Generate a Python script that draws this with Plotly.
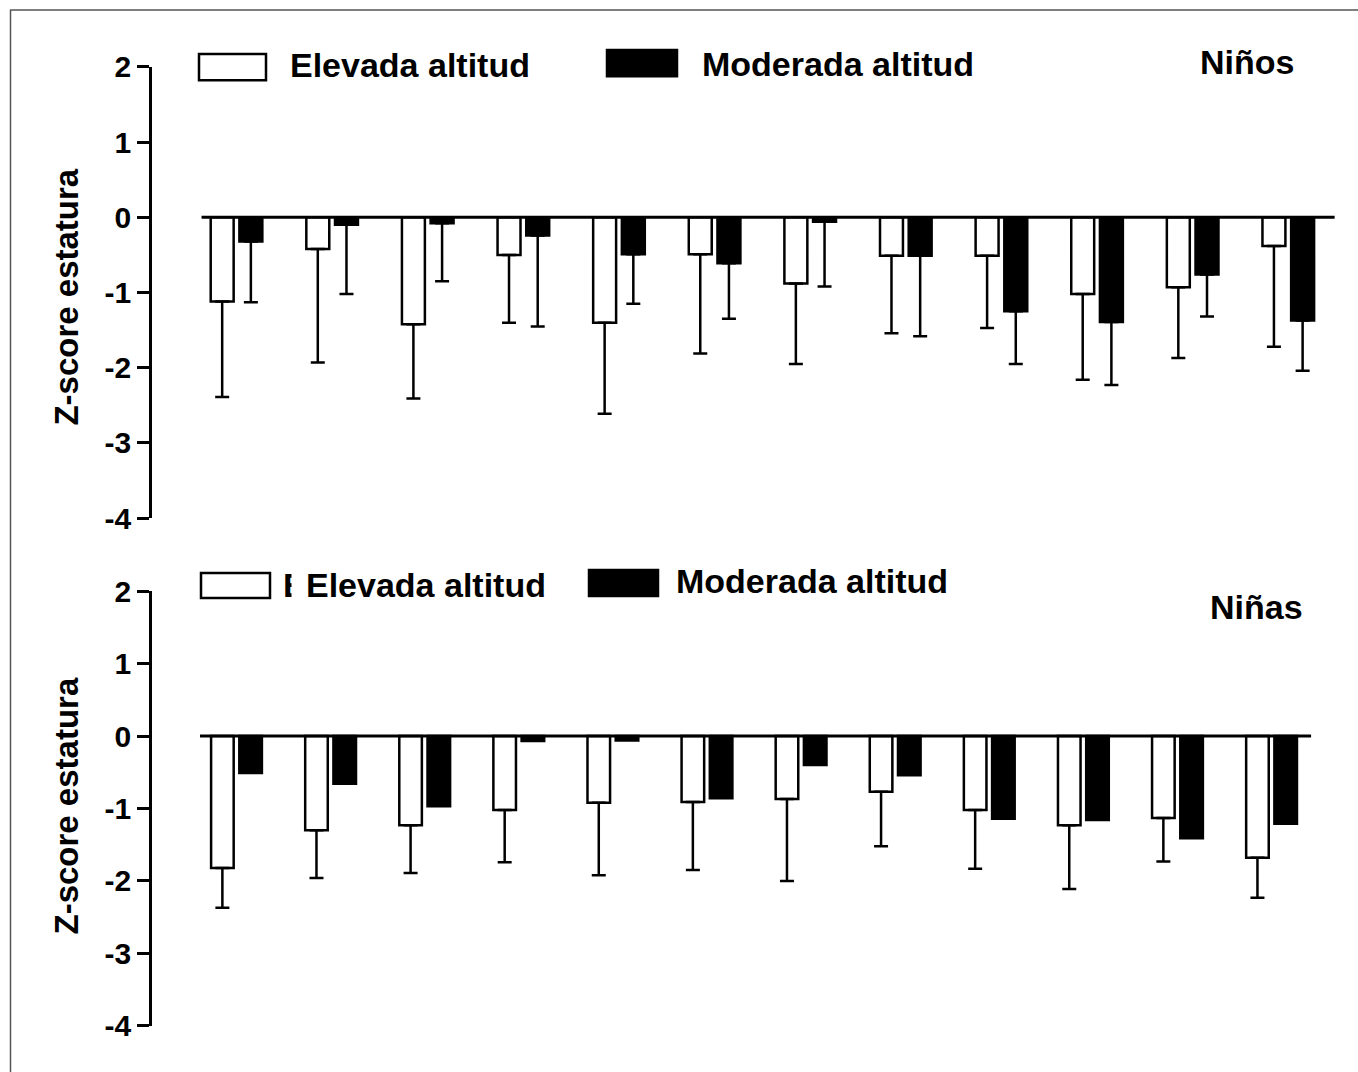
import plotly.graph_objects as go

# ---------------- data ----------------
groups = list(range(12))
series_names = ["Elevada altitud", "Moderada altitud"]

ninos_elevada = [-1.12, -0.42, -1.42, -0.50, -1.40, -0.49, -0.88, -0.51, -0.51, -1.02, -0.93, -0.38]
ninos_elevada_sd = [1.27, 1.51, 0.99, 0.90, 1.21, 1.32, 1.07, 1.03, 0.96, 1.14, 0.94, 1.34]
ninos_moderada = [-0.32, -0.10, -0.08, -0.24, -0.49, -0.61, -0.06, -0.51, -1.25, -1.39, -0.76, -1.37]
ninos_moderada_sd = [0.81, 0.92, 0.77, 1.21, 0.66, 0.74, 0.86, 1.07, 0.70, 0.84, 0.56, 0.67]

ninas_elevada = [-1.82, -1.30, -1.23, -1.02, -0.92, -0.91, -0.87, -0.77, -1.02, -1.23, -1.13, -1.68]
ninas_elevada_sd = [0.55, 0.66, 0.66, 0.72, 1.00, 0.94, 1.13, 0.75, 0.81, 0.88, 0.60, 0.55]
ninas_moderada = [-0.51, -0.66, -0.97, -0.07, -0.06, -0.86, -0.40, -0.54, -1.14, -1.16, -1.41, -1.21]

tick_vals = [2, 1, 0, -1, -2, -3, -4]
tick_text = ["2", "1", "0", "-1", "-2", "-3", "-4"]
y_title = "Z-score estatura"
panel_titles = ["Niños", "Niñas"]

# ---------------- figure ----------------
W = 1358
REF_H = 1072          # reference picture height (layout positions are given in it)
H = 1108              # figure height (the page capture is scaled to REF_H)
FONT = "Liberation Sans, Arial, sans-serif"

def px(x, y):
    return x / W, 1 - y / REF_H

fig = go.Figure()

def bar_trace(xaxis, yaxis, vals, sd, fill, name):
    err = dict(visible=False)
    if sd is not None:
        err = dict(type="data", symmetric=False, array=[0] * len(sd), arrayminus=sd,
                   color="black", thickness=2.5, width=7, visible=True)
    return go.Bar(x=groups, y=vals, name=name, xaxis=xaxis, yaxis=yaxis,
                  marker=dict(color=fill, line=dict(color="black", width=2.5)),
                  error_y=err, showlegend=False)

fig.add_trace(bar_trace("x", "y", ninos_elevada, ninos_elevada_sd, "white", series_names[0]))
fig.add_trace(bar_trace("x", "y", ninos_moderada, ninos_moderada_sd, "black", series_names[1]))
fig.add_trace(bar_trace("x2", "y2", ninas_elevada, ninas_elevada_sd, "white", series_names[0]))
fig.add_trace(bar_trace("x2", "y2", ninas_moderada, None, "black", series_names[1]))

yaxis_common = dict(range=[-4, 2], tickvals=tick_vals, ticktext=tick_text,
                    showline=True, linecolor="black", linewidth=2.5,
                    ticks="outside", ticklen=12, tickwidth=2.5, tickcolor="black",
                    showgrid=False, zeroline=False,
                    tickfont=dict(family=FONT, size=30, color="black", weight="bold"))

fig.update_layout(
    width=W, height=H,
    margin=dict(l=0, r=0, t=0, b=0),
    paper_bgcolor="white", plot_bgcolor="white",
    barmode="group", bargap=0.40, bargroupgap=0.2,
    xaxis=dict(domain=[152 / W, 1338 / W], range=[-0.884, 11.52], visible=False),
    yaxis=dict(domain=[px(0, 518.2)[1], px(0, 67.8)[1]], **yaxis_common),
    xaxis2=dict(domain=[152 / W, 1338 / W], range=[-0.898, 11.706], visible=False),
    yaxis2=dict(domain=[px(0, 1025)[1], px(0, 591)[1]], **yaxis_common),
)

shapes = []
# zero lines
shapes.append(dict(type="line", xref="x", yref="y", x0=-0.366, x1=11.485, y0=0, y1=0,
                   line=dict(color="black", width=3), layer="above"))
shapes.append(dict(type="line", xref="x2", yref="y2", x0=-0.388, x1=11.42, y0=0, y1=0,
                   line=dict(color="black", width=3), layer="above"))

# outer frame (left and top edges)
shapes.append(dict(type="line", xref="paper", yref="paper", x0=10.5 / W, x1=10.5 / W,
                   y0=0, y1=px(0, 11)[1], line=dict(color="#555555", width=1.5)))
shapes.append(dict(type="line", xref="paper", yref="paper", x0=10 / W, x1=1,
                   y0=px(0, 11)[1], y1=px(0, 11)[1], line=dict(color="#555555", width=1.5)))

def box(x0, y0, x1, y1, fill):
    a0, b0 = px(x0, y1)
    a1, b1 = px(x1, y0)
    return dict(type="rect", xref="paper", yref="paper", x0=a0, x1=a1, y0=b0, y1=b1,
                fillcolor=fill, line=dict(color="black", width=2.5))

shapes += [box(199, 55, 266, 81, "white"), box(607, 51, 677, 77, "black"),
           box(201, 573, 270, 598, "white"), box(589, 570, 658, 596, "black")]

annotations = []

def label(text, x, y, size=34, anchor="left"):
    ax, ay = px(x, y)
    annotations.append(dict(text=text, x=ax, y=ay, xref="paper", yref="paper",
                            xanchor=anchor, yanchor="middle", showarrow=False,
                            font=dict(family=FONT, size=size, color="black", weight="bold")))

label(series_names[0], 288, 66)
label(series_names[1], 700, 65)
label(panel_titles[0], 1198, 63)
label("E", 281, 585)
label(series_names[0], 304, 585)
label(series_names[1], 674, 581)
label(panel_titles[1], 1208, 607)

# cover right part of the stray "E"
cx, cy = px(291, 568)
annotations.append(dict(text=" ", x=cx, y=cy, xref="paper", yref="paper",
                        xanchor="left", yanchor="top", showarrow=False,
                        bgcolor="white", width=12, height=36, font=dict(size=10)))

for yc in (298, 806):
    ax, ay = px(67, yc)
    annotations.append(dict(text=y_title, x=ax, y=ay, xref="paper", yref="paper",
                            xanchor="center", yanchor="middle", showarrow=False, textangle=-90,
                            font=dict(family=FONT, size=33, color="black", weight="bold")))

fig.update_layout(shapes=shapes, annotations=annotations)

post = ("document.documentElement.style.margin='0';document.body.style.margin='0';"
        "document.body.style.overflow='hidden';"
        "var gd=document.getElementById('{plot_id}');"
        "gd.style.position='absolute';gd.style.left='0px';gd.style.top='-18px';")

fig.write_html("out.html", config={"displayModeBar": False}, post_script=post)
